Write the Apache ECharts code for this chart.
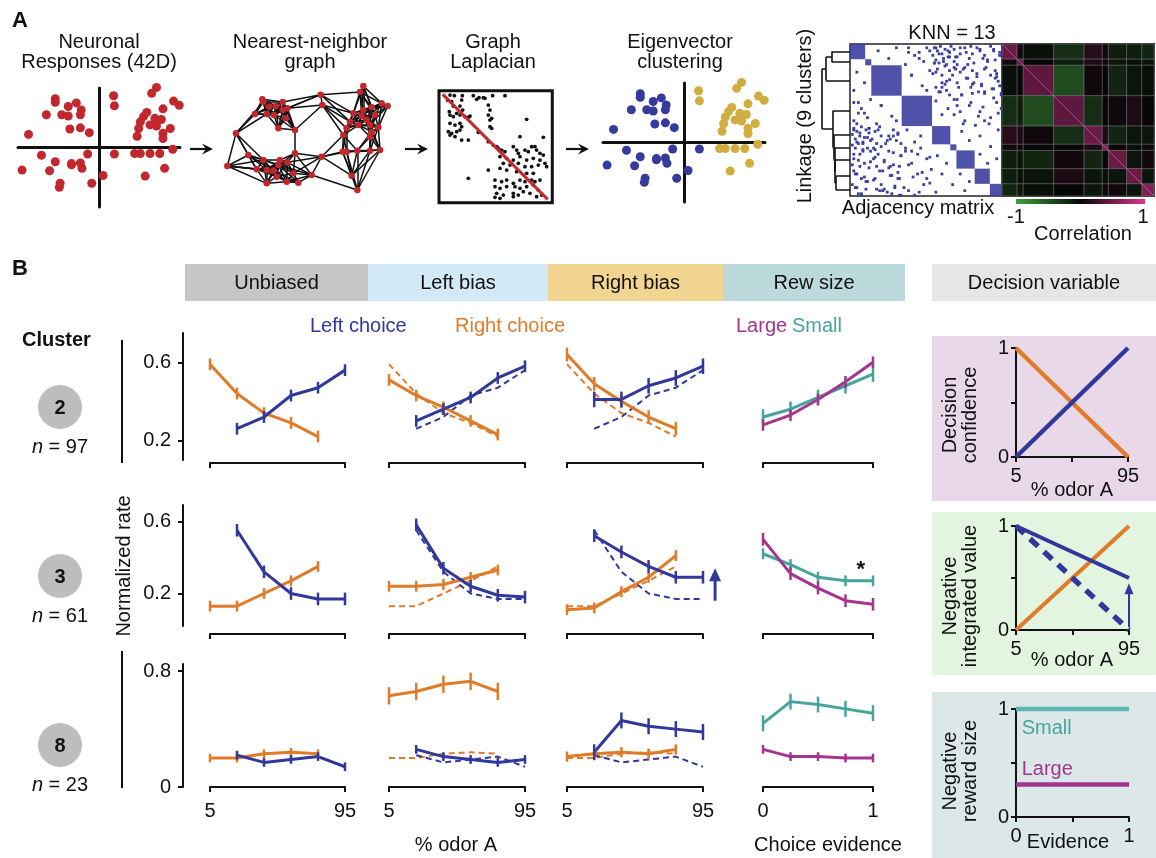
<!DOCTYPE html>
<html><head><meta charset="utf-8">
<script src="https://cdn.jsdelivr.net/npm/echarts@6/dist/echarts.min.js"></script>
<style>html,body{margin:0;padding:0;background:#fff}#c{width:1156px;height:858px}</style>
</head><body><div id="c"></div><script>
const FONT = 'Liberation Sans, Arial, sans-serif';
const BLUE = '#31379b', ORANGE = '#e07b2a', PURPLE = '#a3358f', TEAL = '#45a59c', RED = '#c1272d', GOLD = '#cfae3f', MBLUE = '#3c3f9f';

// ================= Panel B data =================
const ODOR = [5,23,41,59,77,95];
const EVID = [0,0.25,0.5,0.75,1];
// cluster 2
const c2_unb_L = [null,0.26,0.32,0.43,0.47,0.56];
const c2_unb_R = [0.59,0.44,0.34,0.29,0.22,null];
const c2_lb_L  = [null,0.30,0.36,0.42,0.52,0.58];
const c2_lb_R  = [0.51,0.43,0.37,0.30,0.23,null];
const c2_rb_L  = [null,0.41,0.41,0.48,0.52,0.58];
const c2_rb_R  = [0.64,0.49,0.40,0.32,0.26,null];
const c2_large = [0.28,0.33,0.41,0.50,0.60];
const c2_small = [0.32,0.36,0.42,0.48,0.54];
// cluster 3
const c3_unb_L = [null,0.55,0.32,0.20,0.17,0.17];
const c3_unb_R = [0.13,0.13,0.20,0.27,0.35,null];
const c3_lb_L  = [null,0.58,0.34,0.24,0.19,0.18];
const c3_lb_R  = [0.24,0.24,0.25,0.29,0.33,null];
const c3_rb_L  = [null,0.52,0.43,0.35,0.29,0.29];
const c3_rb_R  = [0.11,0.12,0.21,0.29,0.41,null];
const c3_large = [0.50,0.31,0.23,0.16,0.14];
const c3_small = [0.42,0.36,0.29,0.27,0.27];
// cluster 8
const c8_unb_L = [null,0.22,0.17,0.19,0.21,0.14];
const c8_unb_R = [0.20,0.20,0.23,0.24,0.23,null];
const c8_lb_L  = [null,0.26,0.21,0.19,0.17,0.19];
const c8_lb_R  = [0.63,0.66,0.71,0.73,0.66,null];
const c8_rb_L  = [null,0.24,0.46,0.42,0.40,0.38];
const c8_rb_R  = [0.21,0.23,0.24,0.23,0.26,null];
const c8_large = [0.26,0.21,0.21,0.20,0.20];
const c8_small = [0.44,0.59,0.57,0.54,0.51];
// error half-widths [left/large, right/small]
const E = {
  c2u:[0.03,0.03], c2l:[0.03,0.03], c2r:[0.04,0.035], c2w:[0.03,0.04],
  c3u:[0.035,0.03], c3l:[0.035,0.03], c3r:[0.035,0.03], c3w:[0.035,0.03],
  c8u:[0.03,0.03], c8l:[0.03,0.06], c8r:[0.055,0.035], c8w:[0.03,0.055]
};
const ARROW_C3 = [[103,0.16,0.34]];
const STAR_C3 = [[0.85,0.33]];

// Model (decision variable)
const M_ODOR = [5,95];
const M1_LEFT = [0,1], M1_RIGHT = [1,0];
const M2_LEFT = [1,0.5], M2_LEFT0 = [1,0], M2_RIGHT = [0,1];
const M2_ARROW = [[95,0.03,0.45]];
const M_EVID = [0,1];
const M3_SMALL = [1,1], M3_LARGE = [0.3,0.3];
const M3_LABELS = [[0.05,0.82,'Small',TEAL],[0.05,0.44,'Large',PURPLE]];

// ================= Panel A data =================
const RESP_X = [0.71,0.65,0.18,0.19,-0.54,-0.54,-0.28,-0.38,-0.22,-0.65,-0.46,-0.38,-0.23,0.92,0.99,0.79,0.59,0.55,0.69,0.77,0.51,0.63,0.71,0.88,0.49,0.79,0.47,0.79,-0.36,-0.23,-0.12,-0.87,-0.71,-0.14,0.19,0.44,0.51,0.63,0.75,0.91,-0.54,-0.34,-0.23,-0.21,-0.34,-0.95,-0.61,0.05,0.57,0.81,-0.09,-0.48,-0.49];
const RESP_Y = [1.01,0.91,0.87,0.70,0.82,0.76,0.75,0.69,0.63,0.55,0.55,0.53,0.55,0.78,0.71,0.65,0.59,0.52,0.49,0.47,0.43,0.38,0.36,0.32,0.32,0.24,0.19,0.15,0.31,0.33,0.25,0.22,-0.13,-0.11,-0.11,-0.10,-0.10,-0.10,-0.10,-0.03,-0.24,-0.27,-0.26,-0.35,-0.29,-0.38,-0.39,-0.47,-0.48,-0.35,-0.60,-0.60,-0.67];
const RESP_CLUSTER = [1,1,1,1,0,0,0,0,0,0,0,0,0,1,1,1,1,1,1,1,1,1,1,1,1,1,1,1,0,0,0,0,0,0,0,1,1,1,1,1,0,0,0,0,0,0,0,0,1,1,0,0,0];

const NN_NODES = [[787,298],[790,306],[848,306],[827,318],[800,342],[822,345],[848,330],[862,325],[765,342],[857,355],[835,385],[885,390],[708,400],[808,320],
[962,284],[967,315],[965,470],
[1090,258],[1080,276],[1145,310],[1163,318],[1115,322],[1060,340],[1085,347],[1100,360],[1050,365],[1075,375],[1110,375],[1135,382],[1040,385],[1115,395],[1030,405],[1110,410],[1140,450],[1040,455],[1072,452],[1028,455],[1110,452],[1055,527],[1072,570],[1090,330],[1125,345],
[745,465],[885,460],[790,480],[840,480],[862,487],[835,495],[800,510],[770,508],[820,512],[880,520],[935,525],[682,498],[800,550],[860,545],[895,548],[830,530]];
const K_NN = 7;

const LAP_DOTS = [[150,285],[163,287],[187,287],[220,287],[237,293],[255,295],[278,287],[315,287],
[143,300],[155,305],[185,300],[230,298],[250,293],
[160,318],[180,318],[188,330],[170,340],[180,345],[195,350],[205,352],[210,348],[148,335],[150,345],[160,350],
[265,315],[270,330],[265,345],[275,355],[270,360],
[150,370],[165,375],[180,370],[185,380],[145,395],[155,400],[170,395],[180,390],[150,405],[165,410],[185,420],[205,420],
[270,380],[275,385],[380,358],[360,410],[430,412],
[235,397],[265,425],[280,435],[290,440],[295,445],[305,450],[315,455],
[340,440],[350,450],[355,460],[375,450],[385,455],[395,440],[405,440],[410,450],[420,460],[430,465],
[300,470],[320,475],[340,480],[360,470],[380,480],[400,475],[420,480],[435,490],
[310,490],[330,495],[355,490],[375,500],[395,500],[415,495],[440,500],
[265,510],[300,505],[320,510],[350,515],[380,520],[400,520],
[285,540],[305,545],[320,540],[340,550],[360,540],[375,545],[395,540],[405,545],[420,540],
[285,560],[300,565],[320,560],[345,560],[360,565],[380,560],[400,555],[415,570],
[290,580],[310,585],[340,580],[355,585],[370,575],[390,580],[410,590],[425,585],
[205,535],[300,595],[340,590],[285,592]];
const LAP_DIAG = [[128,283],[443,598]];

const CL_SIZES = [10,4,20,20,12,4,12,10,8];
const LINKAGE = [[0,1,0.65],[9,2,0.86],[7,8,0.50],[6,11,0.54],[5,12,0.56],[4,13,0.59],[3,14,0.62],[10,15,1.0]];
const ADJ_DOTS = [[55,2],[57,4],[59,1],[60,6],[62,3],[64,8],[56,10],[58,12],[61,11],[63,13],[65,5],[54,7],
[68,3],[72,6],[75,2],[78,9],[81,12],[85,4],[88,7],[92,1],[95,10],[98,5],[70,13],[90,11],
[38,5],[45,9],[50,2],
[56,18],[60,25],[63,30],[67,20],[71,28],[74,16],[77,22],[80,32],[83,19],[86,26],[89,15],[93,29],[96,21],[99,33],[58,31],[65,23],
[68,36],[72,44],[75,50],[79,38],[84,47],[87,41],[91,52],[94,35],[97,45],[70,40],[82,53],
[56,37],[60,46],[64,42],[73,57],[78,63],[85,60],[92,67],[97,56],[85,72],[90,78],[96,75],
[18,4],[25,9],[30,2],[40,20],[47,27],[52,17],
[20,40],[28,60],[15,75],[32,88],[22,95],[12,55],[5,45],[8,70],[3,85],[26,80],[17,65],[30,50],
[2,56],[6,58],[9,61],[4,64],[12,55],[16,57],[20,60],[24,63],[28,56],[31,59],[33,65],[19,54],[26,62],[8,65],[14,62],
[15,68],[18,72],[22,76],[25,70],[28,79],[31,84],[16,88],[20,92],[24,97],[29,94],[33,73],[17,80],[27,86],[21,83],[32,99],[19,96],
[2,72],[6,80],[10,90],[13,77],[4,94],[11,68],[7,98],
[36,70],[40,78],[44,85],[48,92],[52,74],[38,96],[46,68],[50,88],[42,99],
[2,38],[7,42],[11,48],[4,52],[13,36],
[66,1],[69,8],[76,5],[83,2],[87,9],[94,3],[99,7],[79,1],
[69,16],[73,33],[81,25],[88,31],[95,17],[98,27]];
const CORR = [
 [0.45, 0.05,-0.05,-0.25, 0.15, 0.05,-0.15,-0.15,-0.2],
 [0.05,0.45, 0.0, -0.15, 0.1, 0.05,-0.1,-0.05,-0.1],
 [-0.05,0.0,0.4,-0.45, 0.05,0.0,-0.2,-0.1,-0.05],
 [-0.25,-0.15,-0.45, 0.4,-0.25, 0.0, 0.05, 0.1, 0.0],
 [0.15, 0.1, 0.05,-0.25, 0.45, 0.1,-0.2,-0.1,-0.1],
 [0.05,0.05,0.0, 0.0, 0.1, 0.55, 0.0,-0.05, 0.05],
 [-0.15,-0.1,-0.2,0.05,-0.2,0.0,0.45,-0.1, 0.05],
 [-0.15,-0.05,-0.1,0.1,-0.1,-0.05,-0.1,0.45,-0.1],
 [-0.2,-0.1,-0.05,0.0,-0.1,0.05,0.05,-0.1, 0.55]];

// ================= builders =================
const grids=[], xAxes=[], yAxes=[], series=[], graphic=[];
function addGrid(g, xa, ya){
  const i = grids.length;
  grids.push(Object.assign({outerBoundsMode:'none', containLabel:false}, g));
  xAxes.push(Object.assign({gridIndex:i, splitLine:{show:false}}, xa));
  yAxes.push(Object.assign({gridIndex:i, splitLine:{show:false}}, ya));
  return i;
}
const hid = (min,max,inverse)=>({type:'value',min,max,inverse:!!inverse,show:false});
const AX = {color:'#111', width:2};
function lineS(gi, xs, ys, color, dashed, width){
  const data = xs.map((x,i)=>[x, ys[i]]).filter(d=>d[1]!=null);
  series.push({type:'line', xAxisIndex:gi, yAxisIndex:gi, data, symbol:'none', silent:true, clip:false,
    lineStyle:{color, width: width || (dashed?2:3), type: dashed ? [6,4] : 'solid', cap:'butt'}, z: dashed?2:3});
}
function errS(gi, xs, ys, e, color){
  const data = xs.map((x,i)=>[x, ys[i], e]).filter(d=>d[1]!=null);
  series.push({type:'custom', xAxisIndex:gi, yAxisIndex:gi, data, silent:true, z:4,
    renderItem:(p, api)=>{
      const x=api.value(0), y=api.value(1), ee=api.value(2);
      const a=api.coord([x,y-ee]), b=api.coord([x,y+ee]);
      return {type:'line', shape:{x1:a[0],y1:a[1],x2:b[0],y2:b[1]}, style:{stroke:color, lineWidth:2.5}};
    }});
}
function arrowS(gi, data, color, shaftW, headW, headL){
  series.push({type:'custom', xAxisIndex:gi, yAxisIndex:gi, data, silent:true, z:5,
    renderItem:(p, api)=>{
      const x=api.value(0), y0=api.value(1), y1=api.value(2);
      const a=api.coord([x,y0]), b=api.coord([x,y1]);
      return {type:'group', children:[
        {type:'line', shape:{x1:a[0],y1:a[1],x2:b[0],y2:b[1]+headL*0.7}, style:{stroke:color,lineWidth:shaftW}},
        {type:'polygon', shape:{points:[[b[0],b[1]],[b[0]-headW/2,b[1]+headL],[b[0]+headW/2,b[1]+headL]]}, style:{fill:color}}]};
    }});
}
function textS(gi, data, size, bold){
  series.push({type:'custom', xAxisIndex:gi, yAxisIndex:gi, data, silent:true, z:6,
    renderItem:(p, api)=>{
      const pt = api.coord([api.value(0), api.value(1)]);
      const d = data[p.dataIndex];
      return {type:'text', x:pt[0], y:pt[1], style:{text:d[2]||'*', fill:d[3]||'#111', fontSize:size, fontFamily:FONT,
        fontWeight: bold?'bold':'normal', align:'left', verticalAlign:'middle'}};
    }});
}
function txt(x,y,text,o={}){
  const st = {text, fill:o.color||'#111', fontSize:o.size||20, fontFamily:FONT, fontWeight:o.bold?'bold':'normal',
    align:o.align||'center', verticalAlign:o.va||'middle', textAlign:o.align||'center', textVerticalAlign:o.va||'middle', lineHeight:o.lh||20};
  if (o.rich) st.rich = o.rich;
  graphic.push({type:'text', x, y, rotation:o.rot||0, z:50, silent:true, style:st});
}
function rect(x,y,w,h,fill,z){ graphic.push({type:'rect', shape:{x,y,width:w,height:h}, style:{fill}, z:(z==null?-1:z), silent:true}); }
function gline(x1,y1,x2,y2,w,color){ graphic.push({type:'line', shape:{x1,y1,x2,y2}, style:{stroke:color||'#111', lineWidth:w}, z:5, silent:true}); }
function garrow(x1,x2,y){
  gline(x1,y,x2-6,y,2.2);
  graphic.push({type:'polygon', shape:{points:[[x2,y],[x2-11,y-5.5],[x2-7,y],[x2-11,y+5.5]]}, style:{fill:'#111'}, z:5, silent:true});
}

// ================= Panel A =================
const crossAx = {type:'value', min:-1, max:1, axisLine:{show:true,onZero:true,lineStyle:{color:'#111',width:3}}, axisTick:{show:false}, axisLabel:{show:false}};
let gi = addGrid({left:18, top:88, width:162, height:119}, crossAx, crossAx);
series.push({type:'scatter', xAxisIndex:gi, yAxisIndex:gi, clip:false, symbolSize:9, itemStyle:{color:RED, opacity:1}, silent:true,
  data: RESP_X.map((x,i)=>[x, RESP_Y[i]])});
gi = addGrid({left:603, top:83, width:162, height:119}, crossAx, crossAx);
series.push({type:'scatter', xAxisIndex:gi, yAxisIndex:gi, clip:false, symbolSize:9, silent:true,
  itemStyle:{opacity:1, color:(p)=> RESP_CLUSTER[p.dataIndex] ? GOLD : '#353a9c'},
  data: RESP_X.map((x,i)=>[x, RESP_Y[i]])});

// nearest neighbor graph
gi = addGrid({left:220, top:80, width:173.33, height:116.67}, hid(660,1180), hid(240,590,true));
const seen = new Set(), nnEdges = [];
NN_NODES.forEach((p,i)=>{
  NN_NODES.map((q,j)=>[j, Math.hypot(p[0]-q[0], p[1]-q[1])]).filter(e=>e[0]!==i)
    .sort((a,b)=>a[1]-b[1]).slice(0,K_NN).forEach(([j])=>{
      const key = i<j ? i+'-'+j : j+'-'+i;
      if (!seen.has(key)) { seen.add(key); nnEdges.push({coords:[p, NN_NODES[j]]}); }
    });
});
series.push({type:'lines', coordinateSystem:'cartesian2d', xAxisIndex:gi, yAxisIndex:gi, data:nnEdges, silent:true,
  lineStyle:{color:'#111', width:1.5, opacity:1}, z:2});
series.push({type:'scatter', xAxisIndex:gi, yAxisIndex:gi, data:NN_NODES, symbolSize:6.5, itemStyle:{color:RED, opacity:1}, silent:true, z:3, clip:false});

// graph laplacian
gi = addGrid({left:439, top:90.7, width:113.3, height:112, show:true, borderColor:'#111', borderWidth:3, backgroundColor:'#fff'},
  hid(117,457), hid(272,608,true));
series.push({type:'scatter', xAxisIndex:gi, yAxisIndex:gi, data:LAP_DOTS, symbolSize:3.8, itemStyle:{color:'#111', opacity:1}, silent:true});
series.push({type:'line', xAxisIndex:gi, yAxisIndex:gi, data:LAP_DIAG, symbol:'none', lineStyle:{color:'#c8282e', width:3}, silent:true, z:3});

// dendrogram + adjacency + correlation
const BOUND = [0]; CL_SIZES.forEach(s=>BOUND.push(BOUND[BOUND.length-1]+s));
const nodeY = CL_SIZES.map((s,k)=>BOUND[k]+s/2), nodeH = CL_SIZES.map(()=>0);
const dendro = [];
LINKAGE.forEach(([a,b,h])=>{
  dendro.push({coords:[[nodeH[a],nodeY[a]],[h,nodeY[a]]]});
  dendro.push({coords:[[nodeH[b],nodeY[b]],[h,nodeY[b]]]});
  dendro.push({coords:[[h,nodeY[a]],[h,nodeY[b]]]});
  nodeY.push((nodeY[a]+nodeY[b])/2); nodeH.push(h);
});
gi = addGrid({left:822, top:44, width:28, height:152}, hid(0,1,true), hid(0,100,true));
series.push({type:'lines', coordinateSystem:'cartesian2d', xAxisIndex:gi, yAxisIndex:gi, data:dendro, silent:true,
  lineStyle:{color:'#111', width:1.6, opacity:1}});

gi = addGrid({left:850, top:44, width:152, height:152, show:true, borderColor:'#222', borderWidth:1.5, backgroundColor:'#fff'},
  hid(0,100), hid(0,100,true));
series.push({type:'custom', xAxisIndex:gi, yAxisIndex:gi, silent:true, data: CL_SIZES.map((s,k)=>[k, k]),
  renderItem:(p, api)=>{
    const k = api.value(0);
    const a = api.coord([BOUND[k], BOUND[k]]), b = api.coord([BOUND[k+1], BOUND[k+1]]);
    return {type:'rect', shape:{x:a[0], y:a[1], width:b[0]-a[0], height:b[1]-a[1]}, style:{fill:MBLUE, opacity:0.9}};
  }});
const adjData = [];
ADJ_DOTS.forEach(([i,j])=>{ adjData.push([i+0.5,j+0.5]); adjData.push([j+0.5,i+0.5]); });
series.push({type:'scatter', xAxisIndex:gi, yAxisIndex:gi, data:adjData, symbol:'rect', symbolSize:2.8, itemStyle:{color:MBLUE, opacity:1}, silent:true});

gi = addGrid({left:1002, top:44, width:152, height:152, show:true, borderColor:'#333', borderWidth:2, backgroundColor:'#000'},
  hid(0,100), hid(0,100,true));
const corrData = [];
CORR.forEach((row,i)=>row.forEach((v,j)=>corrData.push([i,j,v])));
const corrIdx = series.length;
series.push({type:'custom', xAxisIndex:gi, yAxisIndex:gi, silent:true, data:corrData,
  renderItem:(p, api)=>{
    const i = api.value(0), j = api.value(1);
    const a = api.coord([BOUND[i], BOUND[j]]), b = api.coord([BOUND[i+1], BOUND[j+1]]);
    return {type:'rect', shape:{x:a[0], y:a[1], width:b[0]-a[0], height:b[1]-a[1]},
      style:{fill:api.visual('color'), stroke:'rgba(170,170,170,0.55)', lineWidth:0.6}};
  }});
series.push({type:'line', xAxisIndex:gi, yAxisIndex:gi, data:[[0,0],[100,100]], symbol:'none', silent:true,
  lineStyle:{color:'#d060c0', width:1, opacity:0.7}, z:3});
const CMAP = ['#3fa03d','#060606','#e0368f'];

// ================= Panel B =================
const COLS = [{left:210,width:135},{left:389,width:136},{left:567,width:136},{left:763,width:110}];
const ROWS = [{top:333,height:127,min:0.1,max:0.75,ticks:[0.2,0.6],off:3},
              {top:505,height:121,min:0.02,max:0.69,ticks:[0.2,0.6],off:8},
              {top:664,height:123,min:0,max:0.85,ticks:[0,0.8],off:0}];
const PB = [
  {r:0,c:0,L:c2_unb_L,R:c2_unb_R,e:E.c2u},
  {r:0,c:1,L:c2_lb_L,R:c2_lb_R,dL:c2_unb_L,dR:c2_unb_R,e:E.c2l},
  {r:0,c:2,L:c2_rb_L,R:c2_rb_R,dL:c2_unb_L,dR:c2_unb_R,e:E.c2r},
  {r:0,c:3,Lg:c2_large,Sm:c2_small,e:E.c2w},
  {r:1,c:0,L:c3_unb_L,R:c3_unb_R,e:E.c3u},
  {r:1,c:1,L:c3_lb_L,R:c3_lb_R,dL:c3_unb_L,dR:c3_unb_R,e:E.c3l},
  {r:1,c:2,L:c3_rb_L,R:c3_rb_R,dL:c3_unb_L,dR:c3_unb_R,e:E.c3r,arrow:ARROW_C3},
  {r:1,c:3,Lg:c3_large,Sm:c3_small,e:E.c3w,star:STAR_C3},
  {r:2,c:0,L:c8_unb_L,R:c8_unb_R,e:E.c8u},
  {r:2,c:1,L:c8_lb_L,R:c8_lb_R,dL:c8_unb_L,dR:c8_unb_R,e:E.c8l},
  {r:2,c:2,L:c8_rb_L,R:c8_rb_R,dL:c8_unb_L,dR:c8_unb_R,e:E.c8r},
  {r:2,c:3,Lg:c8_large,Sm:c8_small,e:E.c8w}
];
PB.forEach(P=>{
  const R = ROWS[P.r], C = COLS[P.c], ev = P.c===3;
  const xv = ev ? [0,1] : [5,95];
  const xa = {type:'value', min:xv[0], max:xv[1], offset:R.off,
    axisLine:{show:true,onZero:false,lineStyle:AX}, axisTick:{show:true,customValues:xv,length:5,lineStyle:AX},
    axisLabel:{show:P.r===2, customValues:xv, margin:14, fontSize:20, color:'#111', fontFamily:FONT}};
  const ya = P.c===0 ? {type:'value', min:R.min, max:R.max, offset:27,
    axisLine:{show:true,onZero:false,lineStyle:AX}, axisTick:{show:true,customValues:R.ticks,length:5,lineStyle:AX},
    axisLabel:{customValues:R.ticks, margin:12, fontSize:20, color:'#111', fontFamily:FONT}} : hid(R.min,R.max);
  const g = addGrid({left:C.left, top:R.top, width:C.width, height:R.height}, xa, ya);
  if (ev) {
    lineS(g, EVID, P.Sm, TEAL); lineS(g, EVID, P.Lg, PURPLE);
    errS(g, EVID, P.Sm, P.e[1], TEAL); errS(g, EVID, P.Lg, P.e[0], PURPLE);
  } else {
    if (P.dR) lineS(g, ODOR, P.dR, ORANGE, true);
    if (P.dL) lineS(g, ODOR, P.dL, BLUE, true);
    lineS(g, ODOR, P.R, ORANGE); lineS(g, ODOR, P.L, BLUE);
    errS(g, ODOR, P.R, P.e[1], ORANGE); errS(g, ODOR, P.L, P.e[0], BLUE);
  }
  if (P.arrow) arrowS(g, P.arrow, BLUE, 3, 12, 13);
  if (P.star) textS(g, P.star, 22, true);
});

// ================= model panels =================
function mAxes(xv, xt){
  const xa = {type:'value', min:xv[0], max:xv[1], axisLine:{show:true,onZero:false,lineStyle:AX},
    axisTick:{show:true,customValues:xt,length:5,lineStyle:AX},
    axisLabel:{customValues:xv, margin:9, fontSize:20, color:'#111', fontFamily:FONT}};
  const ya = {type:'value', min:0, max:1, axisLine:{show:true,onZero:false,lineStyle:AX},
    axisTick:{show:true,customValues:[0,0.5,1],length:5,lineStyle:AX},
    axisLabel:{customValues:[0,1], margin:7, fontSize:20, color:'#111', fontFamily:FONT}};
  return [xa, ya];
}
let ax = mAxes([5,95],[5,50,95]);
gi = addGrid({left:1016, top:348, width:112, height:109}, ax[0], ax[1]);
lineS(gi, M_ODOR, M1_RIGHT, ORANGE, false, 4.5); lineS(gi, M_ODOR, M1_LEFT, BLUE, false, 4.5);
ax = mAxes([5,95],[5,50,95]);
gi = addGrid({left:1016, top:526, width:113, height:104}, ax[0], ax[1]);
lineS(gi, M_ODOR, M2_RIGHT, ORANGE, false, 4);
series.push({type:'line', xAxisIndex:gi, yAxisIndex:gi, data:M_ODOR.map((x,i)=>[x,M2_LEFT0[i]]), symbol:'none', silent:true, clip:false,
  lineStyle:{color:BLUE, width:5.5, type:[11,8]}, z:3});
lineS(gi, M_ODOR, M2_LEFT, BLUE, false, 4);
arrowS(gi, M2_ARROW, BLUE, 2, 9, 11);
ax = mAxes([0,1],[0,0.5,1]);
gi = addGrid({left:1016, top:709, width:113, height:108}, ax[0], ax[1]);
lineS(gi, M_EVID, M3_SMALL, '#5cb5b2', false, 4.5); lineS(gi, M_EVID, M3_LARGE, PURPLE, false, 4.5);
textS(gi, M3_LABELS, 20, false);

// ================= graphic decorations =================
txt(12,21,'A',{size:22,bold:true,align:'left'});
txt(12,269,'B',{size:22,bold:true,align:'left'});
txt(99,52,'Neuronal\nResponses (42D)');
txt(310,52,'Nearest-neighbor\ngraph');
txt(493,52,'Graph\nLaplacian');
txt(680,52,'Eigenvector\nclustering');
garrow(190,213,149); garrow(405,428,149); garrow(566,589,149);
txt(952,33,'KNN = 13');
txt(918,208,'Adjacency matrix');
txt(805,116,'Linkage (9 clusters)',{rot:Math.PI/2});
graphic.push({type:'rect', shape:{x:1016,y:199,width:129,height:5}, z:5, silent:true,
  style:{fill:new echarts.graphic.LinearGradient(0,0,1,0,[{offset:0,color:CMAP[0]},{offset:0.5,color:CMAP[1]},{offset:1,color:CMAP[2]}])}});
txt(1016,217,'-1'); txt(1143,217,'1'); txt(1083,234,'Correlation');

// headers
const HEAD = [['Unbiased',185,183,'#c6c6c6'],['Left bias',368,180,'#d2e9f8'],['Right bias',548,175,'#f2d590'],['Rew size',723,182,'#bcd9db'],['Decision variable',932,224,'#e6e6e6']];
HEAD.forEach(([t,x,w,c])=>{ rect(x,264,w,37,c); txt(x+w/2,283,t); });
txt(22,340,'Cluster',{bold:true,align:'left'});
txt(310,326,'Left choice',{color:BLUE,align:'left'});
txt(455,326,'Right choice',{color:ORANGE,align:'left'});
txt(736,326,'Large',{color:PURPLE,align:'left'});
txt(792,326,'Small',{color:TEAL,align:'left'});
[[407,'2','97'],[576,'3','61'],[745,'8','23']].forEach(([cy,k,n])=>{
  graphic.push({type:'circle', shape:{cx:60,cy,r:22}, style:{fill:'#bdbdbd'}, z:1, silent:true});
  txt(60,cy+1,k,{bold:true});
  txt(60,cy+40,'{i|n} = '+n,{rich:{i:{fontStyle:'italic',fontSize:20,fontFamily:FONT}}});
});
gline(122,340,122,463,2); gline(122,651,122,788,2);
txt(124,566,'Normalized rate',{rot:Math.PI/2});
txt(456,845,'% odor A'); txt(828,845,'Choice evidence');
// model panel backgrounds & titles
rect(932,336,224,165,'#e9d9e8'); rect(932,512,224,163,'#e3f4e1'); rect(932,692,224,166,'#dce7e8');
txt(960,415,'Decision\nconfidence',{rot:Math.PI/2});
txt(960,596,'Negative\nintegrated value',{rot:Math.PI/2});
txt(960,771,'Negative\nreward size',{rot:Math.PI/2});
txt(1072,490,'% odor A'); txt(1072,660,'% odor A'); txt(1068,842,'Evidence');

const chart = echarts.init(document.getElementById('c'), null, {renderer:'canvas'});
chart.setOption({
  animation:false, backgroundColor:'#fff', textStyle:{fontFamily:FONT},
  grid:grids, xAxis:xAxes, yAxis:yAxes, series, graphic,
  visualMap:[{type:'continuous', show:false, seriesIndex:corrIdx, dimension:2, min:-1, max:1, inRange:{color:CMAP}}]
});
</script></body></html>
